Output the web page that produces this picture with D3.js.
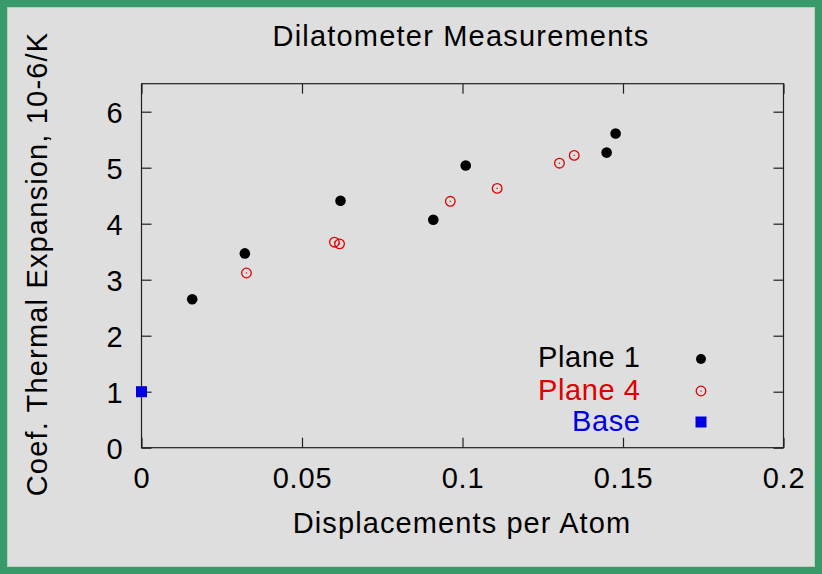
<!DOCTYPE html>
<html><head><meta charset="utf-8">
<script src="https://cdn.jsdelivr.net/npm/d3@7"></script>
<style>html,body{margin:0;padding:0;background:#dedede;}svg{display:block;}</style>
</head><body>
<script>
const plane1X = [0.0158, 0.0322, 0.0620, 0.0909, 0.1010, 0.1449, 0.1477];
const plane1Y = [2.65, 3.47, 4.41, 4.07, 5.04, 5.27, 5.61];
const plane4X = [0.0327, 0.0601, 0.0617, 0.0962, 0.1108, 0.1302, 0.1348];
const plane4Y = [3.12, 3.67, 3.64, 4.40, 4.63, 5.08, 5.22];
const baseX = [0.0];
const baseY = [1.0];
const xTicks = [0, 0.05, 0.1, 0.15, 0.2];
const xTickLabels = ["0", "0.05", "0.1", "0.15", "0.2"];
const yTicks = [0, 1, 2, 3, 4, 5, 6];
const yTickLabels = ["0", "1", "2", "3", "4", "5", "6"];
const seriesNames = ["Plane 1", "Plane 4", "Base"];
const seriesColors = ["#000000", "#e00000", "#0000e0"];

(function(){
const W = 822, H = 574;
const svg = d3.select("body").append("svg").attr("width", W).attr("height", H);
const FONT = "'Liberation Sans', Arial, sans-serif";

svg.append("rect").attr("x",0).attr("y",0).attr("width",W).attr("height",H).attr("fill","#379a68");
svg.append("rect").attr("x",7).attr("y",7).attr("width",W-14).attr("height",H-14).attr("fill","#b8cfc0");
svg.append("rect").attr("x",8).attr("y",8).attr("width",W-16).attr("height",H-16).attr("fill","#dedede");

const x = d3.scaleLinear().domain([0, 0.2]).range([141.5, 783.5]);
const y = d3.scaleLinear().domain([0, 6.5]).range([447.7, 83.7]);

const axisColor = "#202020";
const tl = 10;
const g = svg.append("g");
g.append("rect").attr("x", x(0)).attr("y", y(6.5)).attr("width", x(0.2)-x(0)).attr("height", y(0)-y(6.5))
  .attr("fill","none").attr("stroke",axisColor).attr("stroke-width",1.2);
const fmtX = (d,i) => xTickLabels[i];
const axB = g.append("g").attr("transform",`translate(0,${y(0)})`)
  .call(d3.axisBottom(x).tickValues(xTicks).tickFormat(fmtX).tickSizeInner(-tl).tickSizeOuter(0).tickPadding(20));
const axT = g.append("g").attr("transform",`translate(0,${y(6.5)})`)
  .call(d3.axisTop(x).tickValues(xTicks).tickFormat("").tickSizeInner(-tl).tickSizeOuter(0));
const axL = g.append("g").attr("transform",`translate(${x(0)},0)`)
  .call(d3.axisLeft(y).tickValues(yTicks).tickFormat((d,i)=>yTickLabels[i]).tickSizeInner(-tl).tickSizeOuter(0).tickPadding(18));
const axR = g.append("g").attr("transform",`translate(${x(0.2)},0)`)
  .call(d3.axisRight(y).tickValues(yTicks).tickFormat("").tickSizeInner(-tl).tickSizeOuter(0));
[axB, axT, axL, axR].forEach(a => {
  a.select(".domain").remove();
  a.selectAll(".tick line").attr("stroke",axisColor).attr("stroke-width",1.2);
  a.selectAll(".tick text").attr("fill","#000").style("font-family",FONT).style("font-size","29px").style("letter-spacing","0.8px");
});
axL.selectAll(".tick text").attr("dy","0.36em");

svg.append("text").attr("x",461).attr("y",46).attr("text-anchor","middle")
  .style("font-family",FONT).style("font-size","29px").style("letter-spacing","1.2px").text("Dilatometer Measurements");
svg.append("text").attr("x",462).attr("y",533).attr("text-anchor","middle")
  .style("font-family",FONT).style("font-size","29px").style("letter-spacing","1.1px").text("Displacements per Atom");
svg.append("text").attr("transform","translate(46.5,264) rotate(-90)").attr("text-anchor","middle")
  .style("font-family",FONT).style("font-size","29px").style("letter-spacing","1.17px").text("Coef. Thermal Expansion, 10-6/K");

const p1 = plane1X.map((v,i)=>({x:v,y:plane1Y[i]}));
const p4 = plane4X.map((v,i)=>({x:v,y:plane4Y[i]}));
const pb = baseX.map((v,i)=>({x:v,y:baseY[i]}));

g.selectAll(".p1").data(p1).enter().append("circle").attr("cx",d=>x(d.x)).attr("cy",d=>y(d.y)).attr("r",5.3).attr("fill",seriesColors[0]);
const r4 = g.selectAll(".p4").data(p4).enter().append("g").attr("transform",d=>`translate(${x(d.x)},${y(d.y)})`);
r4.append("circle").attr("r",4.8).attr("fill","none").attr("stroke",seriesColors[1]).attr("stroke-width",1.3);
r4.append("rect").attr("x",-0.6).attr("y",-0.6).attr("width",1.2).attr("height",1.2).attr("fill",seriesColors[1]);
g.selectAll(".pb").data(pb).enter().append("rect").attr("x",d=>x(d.x)-5.5).attr("y",d=>y(d.y)-5.5).attr("width",11).attr("height",11).attr("fill",seriesColors[2]);

const legY = [367, 400, 431];
const legSymY = [359, 391, 422];
seriesNames.forEach((n,i)=>{
  svg.append("text").attr("x",640.6).attr("y",legY[i]).attr("text-anchor","end")
    .style("font-family",FONT).style("font-size","29px").style("letter-spacing","0.6px").attr("fill",seriesColors[i]).text(n);
});
svg.append("circle").attr("cx",701).attr("cy",legSymY[0]).attr("r",5).attr("fill",seriesColors[0]);
svg.append("circle").attr("cx",701).attr("cy",legSymY[1]).attr("r",4.8).attr("fill","none").attr("stroke",seriesColors[1]).attr("stroke-width",1.3);
svg.append("rect").attr("x",700.4).attr("y",legSymY[1]-0.6).attr("width",1.2).attr("height",1.2).attr("fill",seriesColors[1]);
svg.append("rect").attr("x",701-5.5).attr("y",legSymY[2]-5.5).attr("width",11).attr("height",11).attr("fill",seriesColors[2]);
})();
</script>
</body></html>
